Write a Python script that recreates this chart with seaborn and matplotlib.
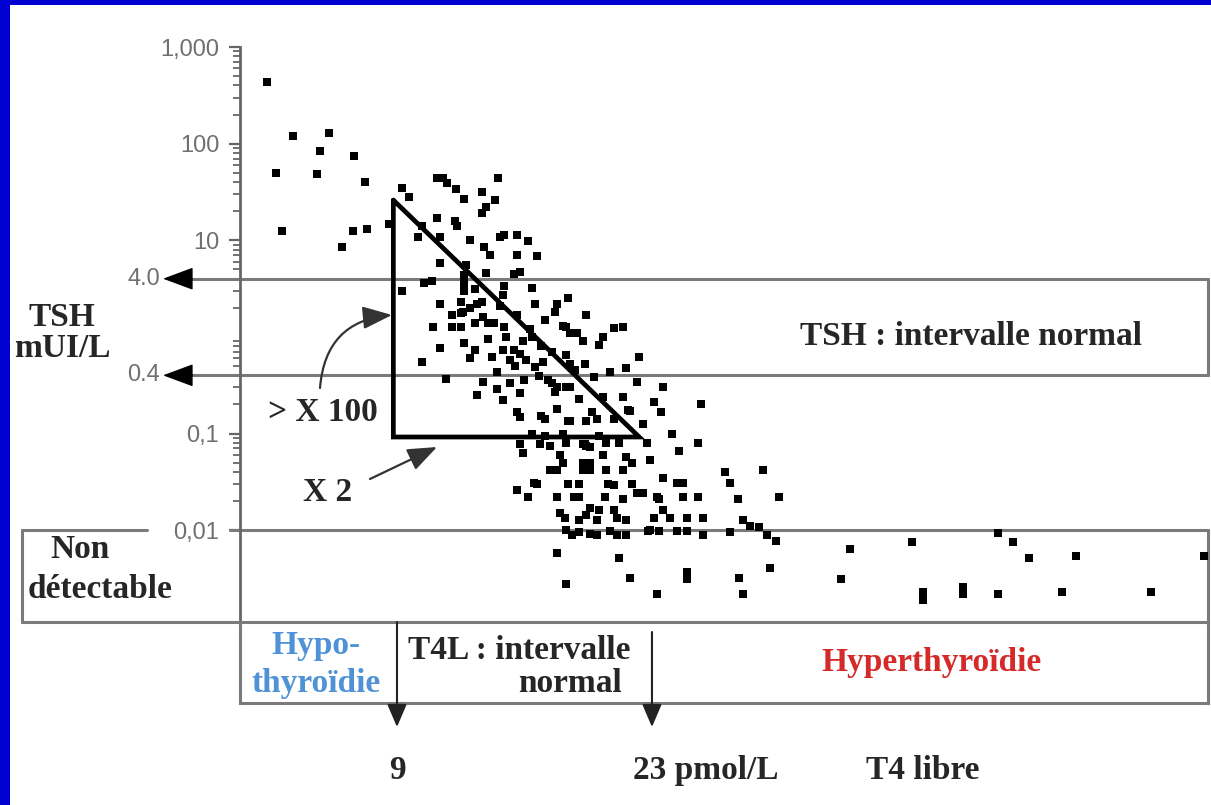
import matplotlib
matplotlib.use('Agg')
import matplotlib.pyplot as plt
from matplotlib.patches import Rectangle
from matplotlib.ticker import NullFormatter
import seaborn as sns

# T4 libre (pmol/L) and TSH (mUI/L)
t4 = [
    # hypothyroid side, high TSH
    1.87, 3.29, 5.27, 2.36, 4.77, 4.6, 6.64, 7.24, 2.69, 6.58, 7.35, 5.98, 8.56, 9.27, 9.66, 9.27,
    # upper cloud
    11.2, 11.5, 11.75, 14.55, 12.24, 12.7, 13.67, 14.4, 13.9, 13.67, 11.2, 12.18, 12.3, 10.37,
    10.15, 11.36, 13.0, 14.66, 14.9, 15.6, 16.2, 13.8, 14.1, 15.6, 16.7, 11.36, 12.8, 13.9, 15.4,
    15.75, 10.5, 10.9, 12.7, 12.7, 12.7, 13.3, 14.9, 14.8, 16.4, 11.36, 12.5, 12.6, 13.67, 14.66,
    16.6, 17.8, 18.4,
    # normal TSH band
    12.0, 12.5, 13.0, 13.4, 13.7, 14.0, 13.3, 11.0, 12.0, 12.5, 14.3, 14.9, 15.6, 17.1, 17.7, 18.3,
    12.7, 11.36, 13.3, 14.8, 15.4, 15.75, 16.1, 15.2, 16.4, 16.9, 17.5, 10.4, 16.6, 16.8, 14.5,
    11.7, 13.7, 17.3, 18.5, 17.5, 17.7,
    19.4, 18.1, 18.5, 18.9, 19.2, 20.3, 21.4, 20.9, 20.1, 18.3, 18.5, 19.3, 22.3, 21.6, 20.7, 22.2,
    23.6,
    15.0, 15.9, 16.3, 14.0, 17.0, 15.5, 13.0, 14.2, 16.0, 15.2, 18.8, 19.8,
    # below 0.4
    13.4, 14.5, 14.8, 15.75, 17.8, 18.3, 19.0, 20.3, 21.4, 23.1, 25.7, 21.7, 23.5, 15.75, 15.6,
    16.9, 17.1, 17.8, 18.4, 18.5, 19.4, 20.0, 19.7, 20.9, 21.8, 22.5, 24.1, 16.4, 17.1, 18.1, 20.1,
    # below 0.1
    25.5, 22.7, 21.2, 19.3, 19.6, 18.3, 20.5, 15.75, 15.9, 16.85, 17.4, 17.95, 18.1, 17.4, 17.8,
    19.2, 19.4, 19.2, 19.6, 19.2, 19.6, 20.3, 20.5, 21.6, 21.9, 21.4, 22.9, 24.5, 27.0, 29.1, 27.3,
    23.6, 24.4, 24.7, 16.5, 16.7, 15.6, 16.2, 18.4, 19.0, 17.8, 18.7, 19.0, 20.6, 20.9, 20.4, 21.9,
    22.2, 22.5, 21.4, 23.3, 24.7, 25.5, 27.7, 30.0, 23.4, 23.6, 19.6, 20.1, 20.9, 17.95, 19.4,
    18.2, 19.0, 20.0, 21.1, 21.6, 23.1, 24.0, 24.9, 25.8, 28.0,
    # around 0.01
    18.3, 18.6, 19.0, 19.6, 20.0, 20.7, 21.1, 21.6, 22.8, 22.9, 23.4, 24.4, 24.9, 25.8, 27.3,
    28.4, 28.9, 29.3, 29.8,
    # non detectable
    17.8, 21.2, 18.3, 21.8, 23.3, 29.5, 24.9, 24.9, 27.8, 28.0, 33.9, 33.4, 37.3, 37.9, 37.9,
    40.1, 40.1, 42.0, 42.8, 43.7, 42.0, 46.3, 45.5, 50.4, 53.3,
]
tsh = [
    435, 120, 129, 50, 84, 48, 74, 40, 12.4, 12.4, 13, 8.5, 14.7, 35, 28, 3.0,
    44, 44, 39, 44, 34, 27, 31.5, 26, 22, 19, 17, 16, 14, 14,
    10.8, 10.8, 10, 10.8, 11.3, 11.2, 9.8, 8.5, 7.0, 7.0, 6.9, 5.8, 5.5, 4.6, 4.5,
    4.7, 3.6, 3.8, 4.4, 3.6, 3.0, 3.1, 3.4, 2.7, 3.2, 2.2, 2.3, 1.8, 2.3, 2.1,
    2.2, 2.2, 2.5,
    1.7, 1.75, 2.0, 2.2, 1.6, 1.4, 1.4, 1.26, 1.26, 1.26, 1.4, 1.26, 1.7, 1.5, 1.8, 1.26,
    0.86, 0.76, 0.74, 0.74, 0.74, 0.66, 0.58, 0.58, 1.0, 0.8, 0.7, 0.55, 0.49, 0.39, 0.43,
    0.37, 0.34, 0.36, 0.30, 0.33, 0.27,
    1.7, 1.3, 1.1, 1.1, 0.9, 1.0, 1.26, 1.25, 0.83, 0.65, 0.53, 0.53, 0.62, 0.48, 0.43, 0.34,
    0.3,
    1.0, 0.9, 1.2, 0.95, 0.55, 0.5, 0.6, 0.62, 0.36, 0.33, 0.45, 0.38,
    0.25, 0.29, 0.22, 0.26, 0.3, 0.3, 0.23, 0.24, 0.24, 0.21, 0.2, 0.177, 0.165, 0.148, 0.165,
    0.15, 0.14, 0.18, 0.134, 0.134, 0.134, 0.14, 0.165, 0.14, 0.17, 0.125, 0.1, 0.1, 0.094, 0.1, 0.094,
    0.08, 0.08, 0.08, 0.077, 0.073, 0.08, 0.08, 0.077, 0.063, 0.077, 0.075, 0.06, 0.05, 0.042, 0.042,
    0.077, 0.075, 0.05, 0.05, 0.042, 0.042, 0.06, 0.042, 0.057, 0.05, 0.042, 0.053, 0.066, 0.04, 0.042, 0.031,
    0.035, 0.031, 0.031, 0.031, 0.03, 0.026, 0.022, 0.03, 0.03, 0.022, 0.022, 0.022, 0.03, 0.029, 0.022, 0.03,
    0.024, 0.024, 0.021, 0.022, 0.022, 0.022, 0.021, 0.022, 0.021, 0.016, 0.017, 0.016, 0.016, 0.015, 0.0145,
    0.0135, 0.0127, 0.0127, 0.0135, 0.0127, 0.0135, 0.0135, 0.0135, 0.0135, 0.0127,
    0.01, 0.0089, 0.0095, 0.0091, 0.0089, 0.0097, 0.0089, 0.0088, 0.0097, 0.01, 0.0097, 0.0097, 0.0097, 0.0089, 0.0095,
    0.011, 0.0107, 0.0089, 0.0078,
    0.0058, 0.0052, 0.0028, 0.0032, 0.0022, 0.0041, 0.0037, 0.0031, 0.0032, 0.0022, 0.0064, 0.0031, 0.0076, 0.0023, 0.0019,
    0.0026, 0.0022, 0.0094, 0.0076, 0.0052, 0.0022, 0.0054, 0.0023, 0.0023, 0.0054,
]

ytick_vals = [1000, 100, 10, 0.1, 0.01]
ytick_labels = ['1,000', '100', '10', '0,1', '0,01']
tsh_normal = [4.0, 0.4]
tsh_normal_labels = ['4.0', '0.4']
t4_normal = [9, 23]
tsh_detect = 0.01
# the "x2 / x100" triangle
tri_t4 = [8.8, 8.8, 22.3, 8.8]
tri_tsh = [26, 0.092, 0.092, 26]

sns.set_theme(style='white')
plt.rcParams['font.family'] = ['Liberation Serif', 'DejaVu Serif']

W, H = 1211, 805
fig = plt.figure(figsize=(W / 100, H / 100), dpi=100, facecolor='white')

def fx(px):
    return (px - 240) / 968

def fy(py):
    return (622 - py) / 575

def gy(py):
    return (703 - py) / 81

GRAY = '#7a7a7a'
TICK = '#707070'
bold = dict(fontsize=24, fontweight='bold', family='Liberation Serif')

# blue frame
fig.add_artist(Rectangle((0, 0), 10 / W, 1, transform=fig.transFigure, facecolor='#0000d2', edgecolor='none'))
fig.add_artist(Rectangle((0, 1 - 5 / H), 1, 5 / H, transform=fig.transFigure, facecolor='#0000d2', edgecolor='none'))

ax = fig.add_axes([240 / W, 1 - 622 / H, 968 / W, 575 / H])
axb = fig.add_axes([240 / W, 1 - 703 / H, 968 / W, 81 / H])

sns.scatterplot(x=t4, y=tsh, ax=ax, color='black', marker='s', s=30, linewidth=0,
                clip_on=False, zorder=3)
ax.set_yscale('log')
ax.set_xlim(0.38, 53.53)
ax.set_ylim(0.00112, 1000)
ax.set_xlabel('')
ax.set_ylabel('')
ax.set_facecolor('none')

for s in ['top', 'right', 'bottom']:
    ax.spines[s].set_visible(False)
ax.spines['left'].set_color('#666666')
ax.spines['left'].set_linewidth(2)

ax.set_xticks([])
ax.set_yticks(ytick_vals, ytick_labels)
minor = [k * 10.0 ** e for e in range(-2, 3) for k in range(2, 10)]
ax.set_yticks(minor, minor=True)
ax.yaxis.set_minor_formatter(NullFormatter())
ax.tick_params(axis='y', which='major', left=True, length=8, width=1.6, color='#666666',
               direction='out', labelsize=17, labelcolor=TICK, pad=7)
ax.tick_params(axis='y', which='minor', left=True, length=5, width=1.3, color='#666666',
               direction='out')
for lab in ax.get_yticklabels():
    lab.set_family('Liberation Sans')

ty = ax.get_yaxis_transform()
line_kw = dict(color=GRAY, lw=2.2, clip_on=False, zorder=1)

# TSH normal band with arrows towards the axis labels
for v, lab in zip(tsh_normal, tsh_normal_labels):
    ax.plot([fx(190), 1], [v, v], transform=ty, **line_kw)
    ax.annotate('', xy=(fx(163), v), xytext=(fx(192), v), xycoords=ty, textcoords=ty,
                arrowprops=dict(arrowstyle='-|>,head_length=0.97,head_width=0.36',
                                mutation_scale=20, color='black', lw=1, shrinkA=0, shrinkB=0),
                annotation_clip=False)
    ax.text(fx(160), v, lab, transform=ty, ha='right', va='center', color=TICK,
            fontsize=17, family='Liberation Sans')
ax.plot([1, 1], tsh_normal, transform=ty, **line_kw)

# non-detectable box
ylo = ax.get_ylim()[0]
ax.plot([fx(22), fx(147)], [tsh_detect] * 2, transform=ty, **line_kw)
ax.plot([fx(230), 1], [tsh_detect] * 2, transform=ty, **line_kw)
ax.plot([fx(22), fx(22)], [tsh_detect, ylo], transform=ty, **line_kw)
ax.plot([fx(22), 1], [ylo, ylo], transform=ty, **line_kw)
ax.plot([1, 1], [tsh_detect, ylo], transform=ty, **line_kw)

# triangle
ax.plot(tri_t4, tri_tsh, color='black', lw=3.4, solid_joinstyle='miter', zorder=4)

# arrows pointing at the triangle
ax.annotate('', xy=(fx(392), fy(315)), xytext=(fx(320), fy(388)),
            xycoords='axes fraction', textcoords='axes fraction',
            arrowprops=dict(arrowstyle='-|>,head_length=0.9,head_width=0.35', mutation_scale=20,
                            color='#333333', lw=1.6, shrinkA=0, shrinkB=0,
                            connectionstyle='arc3,rad=-0.42'), annotation_clip=False)
ax.annotate('', xy=(fx(437), fy(447)), xytext=(fx(370), fy(479)),
            xycoords='axes fraction', textcoords='axes fraction',
            arrowprops=dict(arrowstyle='-|>,head_length=0.9,head_width=0.35', mutation_scale=20,
                            color='#333333', lw=1.6, shrinkA=0, shrinkB=0), annotation_clip=False)

# texts on the TSH side
ax.text(fx(62), fy(333), 'TSH\nmUI/L', transform=ax.transAxes, ha='center', va='center',
        linespacing=1.0, **bold)
ax.text(fx(50), fy(550), 'Non', transform=ax.transAxes, ha='left', va='center', **bold)
ax.text(fx(28), fy(590), 'détectable', transform=ax.transAxes, ha='left', va='center', **bold)
ax.text(fx(268), fy(412), '> X 100', transform=ax.transAxes, ha='left', va='center', **bold)
ax.text(fx(328), fy(492), 'X 2', transform=ax.transAxes, ha='center', va='center', **bold)
ax.text(fx(800), fy(336), 'TSH : intervalle normal', transform=ax.transAxes, ha='left',
        va='center', **bold)

# T4 boxes below
axb.set_xlim(ax.get_xlim())
axb.set_ylim(0, 1)
axb.set_xticks([])
axb.set_yticks([])
axb.set_facecolor('none')
for s in axb.spines.values():
    s.set_color(GRAY)
    s.set_linewidth(2.2)
axb.spines['top'].set_visible(False)

for x0, ytop in zip(t4_normal, [1.0, gy(632)]):
    axb.annotate('', xy=(x0, gy(727)), xytext=(x0, ytop),
                 arrowprops=dict(arrowstyle='-|>,head_length=0.7,head_width=0.3',
                                 mutation_scale=20, color='#222222', lw=1.5, shrinkA=0, shrinkB=0),
                 annotation_clip=False)

axb.text(fx(316), gy(645), 'Hypo-', transform=axb.transAxes, ha='center', va='center',
         color='#4f93d6', **bold)
axb.text(fx(316), gy(683), 'thyroïdie', transform=axb.transAxes, ha='center', va='center',
         color='#4f93d6', **bold)
axb.text(fx(408), gy(650), 'T4L : intervalle', transform=axb.transAxes, ha='left',
         va='center', **bold)
axb.text(fx(570), gy(683), 'normal', transform=axb.transAxes, ha='center', va='center', **bold)
axb.text(fx(932), gy(662), 'Hyperthyroïdie', transform=axb.transAxes, ha='center',
         va='center', color='#d42a2a', **bold)

axb.text(t4_normal[0], gy(770), '9', ha='center', va='center', **bold)
axb.text(fx(633), gy(770), '23 pmol/L', transform=axb.transAxes, ha='left', va='center', **bold)
axb.text(fx(866), gy(770), 'T4 libre', transform=axb.transAxes, ha='left', va='center', **bold)

fig.savefig('out.png', dpi=100, facecolor='white')
